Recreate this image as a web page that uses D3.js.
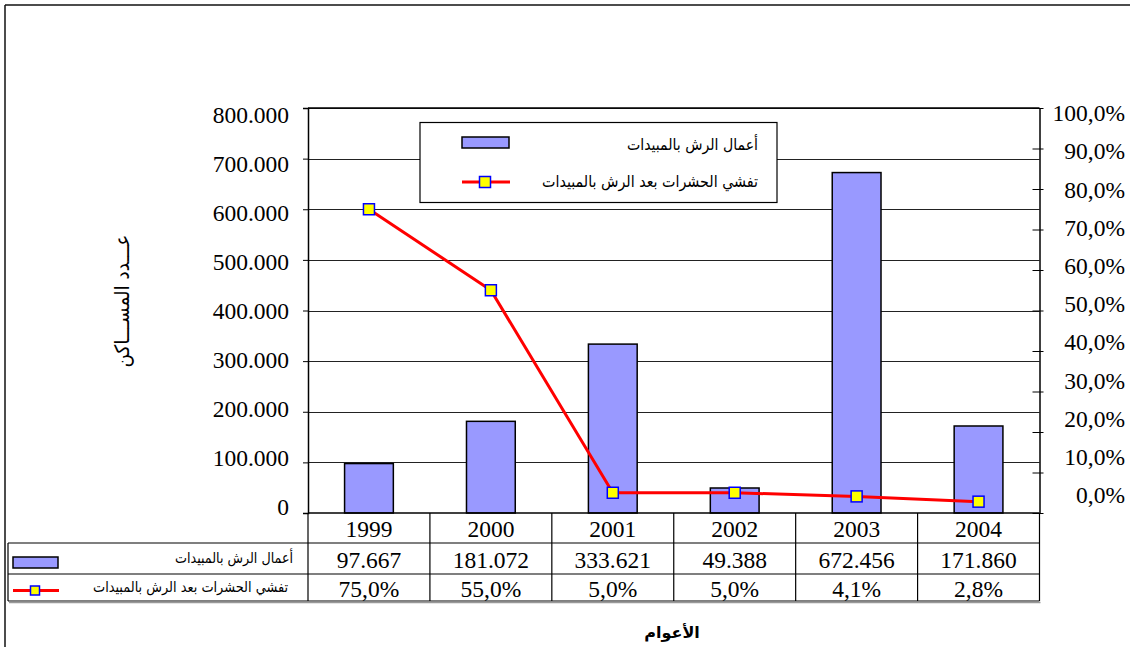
<!DOCTYPE html>
<html><head><meta charset="utf-8">
<script src="https://cdn.jsdelivr.net/npm/d3@7"></script>
<style>
html,body{margin:0;padding:0;background:#fff;}
svg{display:block;}
.num{font-family:"Liberation Serif","Times New Roman",serif;fill:#000;}
.ar{font-family:"DejaVu Sans","Noto Sans",sans-serif;fill:#000;}
</style></head>
<body>
<svg id="c" width="1130" height="647"></svg>
<script>
const years = ["1999","2000","2001","2002","2003","2004"];
const sprayCounts = [97667,181072,333621,49388,672456,171860];
const infestRates = [0.75,0.55,0.05,0.05,0.041,0.028];
const leftTicks = [0,100000,200000,300000,400000,500000,600000,700000,800000];
const rightTicks = [0,0.1,0.2,0.3,0.4,0.5,0.6,0.7,0.8,0.9,1.0];
const seriesBarName = "أعمال الرش بالمبيدات";
const seriesLineName = "تفشي الحشرات بعد الرش بالمبيدات";
const yTitle = "عـــدد المســـاكن";
const xTitle = "الأعوام";

const loc = d3.formatLocale({decimal:",", thousands:".", grouping:[3], currency:["",""]});
const fmtInt = loc.format(",.0f");
const fmtPct = loc.format(".1%");

const svg = d3.select("#c");
const L=308, R=1039.5, T=108, B=513;
const tblL=8, r1=543, r2=574, r3=601;

const x = d3.scaleBand().domain(years).range([L,R]).padding(0);
const yL = d3.scaleLinear().domain([0,800000]).range([B,T]);
const yR = d3.scaleLinear().domain([0,1]).range([B,T]);
// label placement scales (labels in the reference drift slightly from the ticks)
const yLlab = d3.scaleLinear().domain([0,800000]).range([507,115]);
const yRlab = d3.scaleLinear().domain([0,1]).range([495,113]);

// outer frame
svg.append("line").attr("x1",5).attr("x2",1130).attr("y1",5).attr("y2",5).attr("stroke","#111").attr("stroke-width",1.5);
svg.append("line").attr("x1",5).attr("x2",5).attr("y1",5).attr("y2",647).attr("stroke","#111").attr("stroke-width",1.5);

// gridlines
svg.append("g").selectAll("line").data(leftTicks.slice(1)).join("line")
  .attr("x1",L).attr("x2",R).attr("y1",d=>Math.round(yL(d))+0.5).attr("y2",d=>Math.round(yL(d))+0.5)
  .attr("stroke","#222").attr("stroke-width",1);

// bars
const bw = x.bandwidth()*0.4;
svg.append("g").selectAll("rect").data(years).join("rect")
  .attr("x",(d)=>x(d)+x.bandwidth()/2-bw/2)
  .attr("y",(d,i)=>yL(sprayCounts[i]))
  .attr("width",bw)
  .attr("height",(d,i)=>B-yL(sprayCounts[i]))
  .attr("fill","#9999ff").attr("stroke","#000").attr("stroke-width",1.5);

// plot frame top / bottom
svg.append("line").attr("x1",L).attr("x2",R).attr("y1",T).attr("y2",T).attr("stroke","#000").attr("stroke-width",1.5);
svg.append("line").attr("x1",L).attr("x2",R).attr("y1",B).attr("y2",B).attr("stroke","#000").attr("stroke-width",1.5);

// left axis
const axL = svg.append("g").attr("transform",`translate(${L},0)`)
  .call(d3.axisLeft(yL).tickValues(leftTicks).tickSize(5).tickFormat(""));
axL.select(".domain").attr("stroke","#000").attr("stroke-width",1.5);
axL.selectAll(".tick line").attr("stroke","#000").attr("stroke-width",1);
svg.append("g").selectAll("text").data(leftTicks).join("text").attr("class","num")
  .attr("x",289).attr("y",d=>yLlab(d)).attr("dy","0.35em").attr("text-anchor","end")
  .attr("font-size",23.5).text(d=>fmtInt(d));

// right axis
const axR = svg.append("g").attr("transform",`translate(${R},0)`)
  .call(d3.axisRight(yR).tickValues(rightTicks).tickSizeInner(4).tickSizeOuter(0).tickFormat(""));
axR.select(".domain").attr("stroke","#000").attr("stroke-width",1.5);
axR.selectAll(".tick line").attr("x1",-7).attr("x2",4).attr("stroke","#000").attr("stroke-width",1);
svg.append("g").selectAll("text").data(rightTicks).join("text").attr("class","num")
  .attr("x",1125).attr("y",d=>yRlab(d)).attr("dy","0.35em").attr("text-anchor","end")
  .attr("font-size",23.5).text(d=>fmtPct(d));

// line series
const cx = d=>x(d)+x.bandwidth()/2;
const lineGen = d3.line().x((d,i)=>cx(years[i])).y(d=>yR(d));
svg.append("path").datum(infestRates).attr("d",lineGen)
  .attr("fill","none").attr("stroke","#ff0000").attr("stroke-width",3).attr("stroke-linejoin","round");
const ms=11;
svg.append("g").selectAll("rect").data(infestRates).join("rect")
  .attr("x",(d,i)=>cx(years[i])-ms/2).attr("y",d=>yR(d)-ms/2)
  .attr("width",ms).attr("height",ms)
  .attr("fill","#ffff00").attr("stroke","#0000ff").attr("stroke-width",1.5);

// legend
const lg = svg.append("g");
lg.append("rect").attr("x",420).attr("y",122.5).attr("width",357).attr("height",80)
  .attr("fill","#fff").attr("stroke","#000").attr("stroke-width",1.2);
lg.append("rect").attr("x",462).attr("y",137).attr("width",47).attr("height",11)
  .attr("fill","#9999ff").attr("stroke","#000").attr("stroke-width",1.5);
lg.append("text").attr("class","ar").attr("x",758).attr("y",144).attr("dy","0.35em")
  .attr("text-anchor","end").attr("font-size",16).attr("textLength",131).attr("lengthAdjust","spacingAndGlyphs").text(seriesBarName);
lg.append("line").attr("x1",462).attr("x2",510).attr("y1",182).attr("y2",182)
  .attr("stroke","#ff0000").attr("stroke-width",3);
lg.append("rect").attr("x",479.5).attr("y",176.5).attr("width",11).attr("height",11)
  .attr("fill","#ffff00").attr("stroke","#0000ff").attr("stroke-width",1.5);
lg.append("text").attr("class","ar").attr("x",758).attr("y",181).attr("dy","0.35em")
  .attr("text-anchor","end").attr("font-size",16).attr("textLength",216).attr("lengthAdjust","spacingAndGlyphs").text(seriesLineName);

// data table
const tg = svg.append("g");
const tl = (x1,y1,x2,y2)=>tg.append("line").attr("x1",x1).attr("y1",y1).attr("x2",x2).attr("y2",y2)
  .attr("stroke","#000").attr("stroke-width",1.2);
tl(tblL,r1,R,r1); tl(tblL,r2,R,r2); tl(tblL,r3,R,r3);
tl(tblL,r1,tblL,r3);
const bounds = years.map(d=>x(d)).concat([R]);
bounds.forEach(b=>tl(b,B,b,r3));
tg.append("line").attr("x1",tblL+1).attr("x2",R+1).attr("y1",r3+1.5).attr("y2",r3+1.5).attr("stroke","#999").attr("stroke-width",1.5);

tg.selectAll("text.yr").data(years).join("text").attr("class","num yr")
  .attr("x",d=>cx(d)).attr("y",529).attr("dy","0.35em").attr("text-anchor","middle")
  .attr("font-size",23.5).text(d=>d);
tg.selectAll("text.v1").data(sprayCounts).join("text").attr("class","num v1")
  .attr("x",(d,i)=>cx(years[i])).attr("y",560).attr("dy","0.35em").attr("text-anchor","middle")
  .attr("font-size",23.5).text(d=>fmtInt(d));
tg.selectAll("text.v2").data(infestRates).join("text").attr("class","num v2")
  .attr("x",(d,i)=>cx(years[i])).attr("y",589).attr("dy","0.35em").attr("text-anchor","middle")
  .attr("font-size",23.5).text(d=>fmtPct(d));

// table legend keys
tg.append("rect").attr("x",13).attr("y",557).attr("width",45).attr("height",11)
  .attr("fill","#9999ff").attr("stroke","#000").attr("stroke-width",1.5);
tg.append("text").attr("class","ar").attr("x",293).attr("y",558).attr("dy","0.35em")
  .attr("text-anchor","end").attr("font-size",14.5).attr("textLength",118).attr("lengthAdjust","spacingAndGlyphs").text(seriesBarName);
tg.append("line").attr("x1",13).attr("x2",59).attr("y1",590.5).attr("y2",590.5)
  .attr("stroke","#ff0000").attr("stroke-width",3);
tg.append("rect").attr("x",30.5).attr("y",586).attr("width",9).attr("height",9)
  .attr("fill","#ffff00").attr("stroke","#0000ff").attr("stroke-width",1.5);
tg.append("text").attr("class","ar").attr("x",288).attr("y",587).attr("dy","0.35em")
  .attr("text-anchor","end").attr("font-size",14.5).attr("textLength",195).attr("lengthAdjust","spacingAndGlyphs").text(seriesLineName);

// axis titles
svg.append("text").attr("class","ar").attr("transform","translate(122,301) rotate(-90)")
  .attr("text-anchor","middle").attr("dy","0.35em").attr("font-size",20).attr("textLength",133).attr("lengthAdjust","spacingAndGlyphs").text(yTitle);
svg.append("text").attr("class","ar").attr("x",672).attr("y",632).attr("dy","0.35em")
  .attr("text-anchor","middle").attr("font-size",16).attr("font-weight","bold").text(xTitle);
</script>
</body></html>
